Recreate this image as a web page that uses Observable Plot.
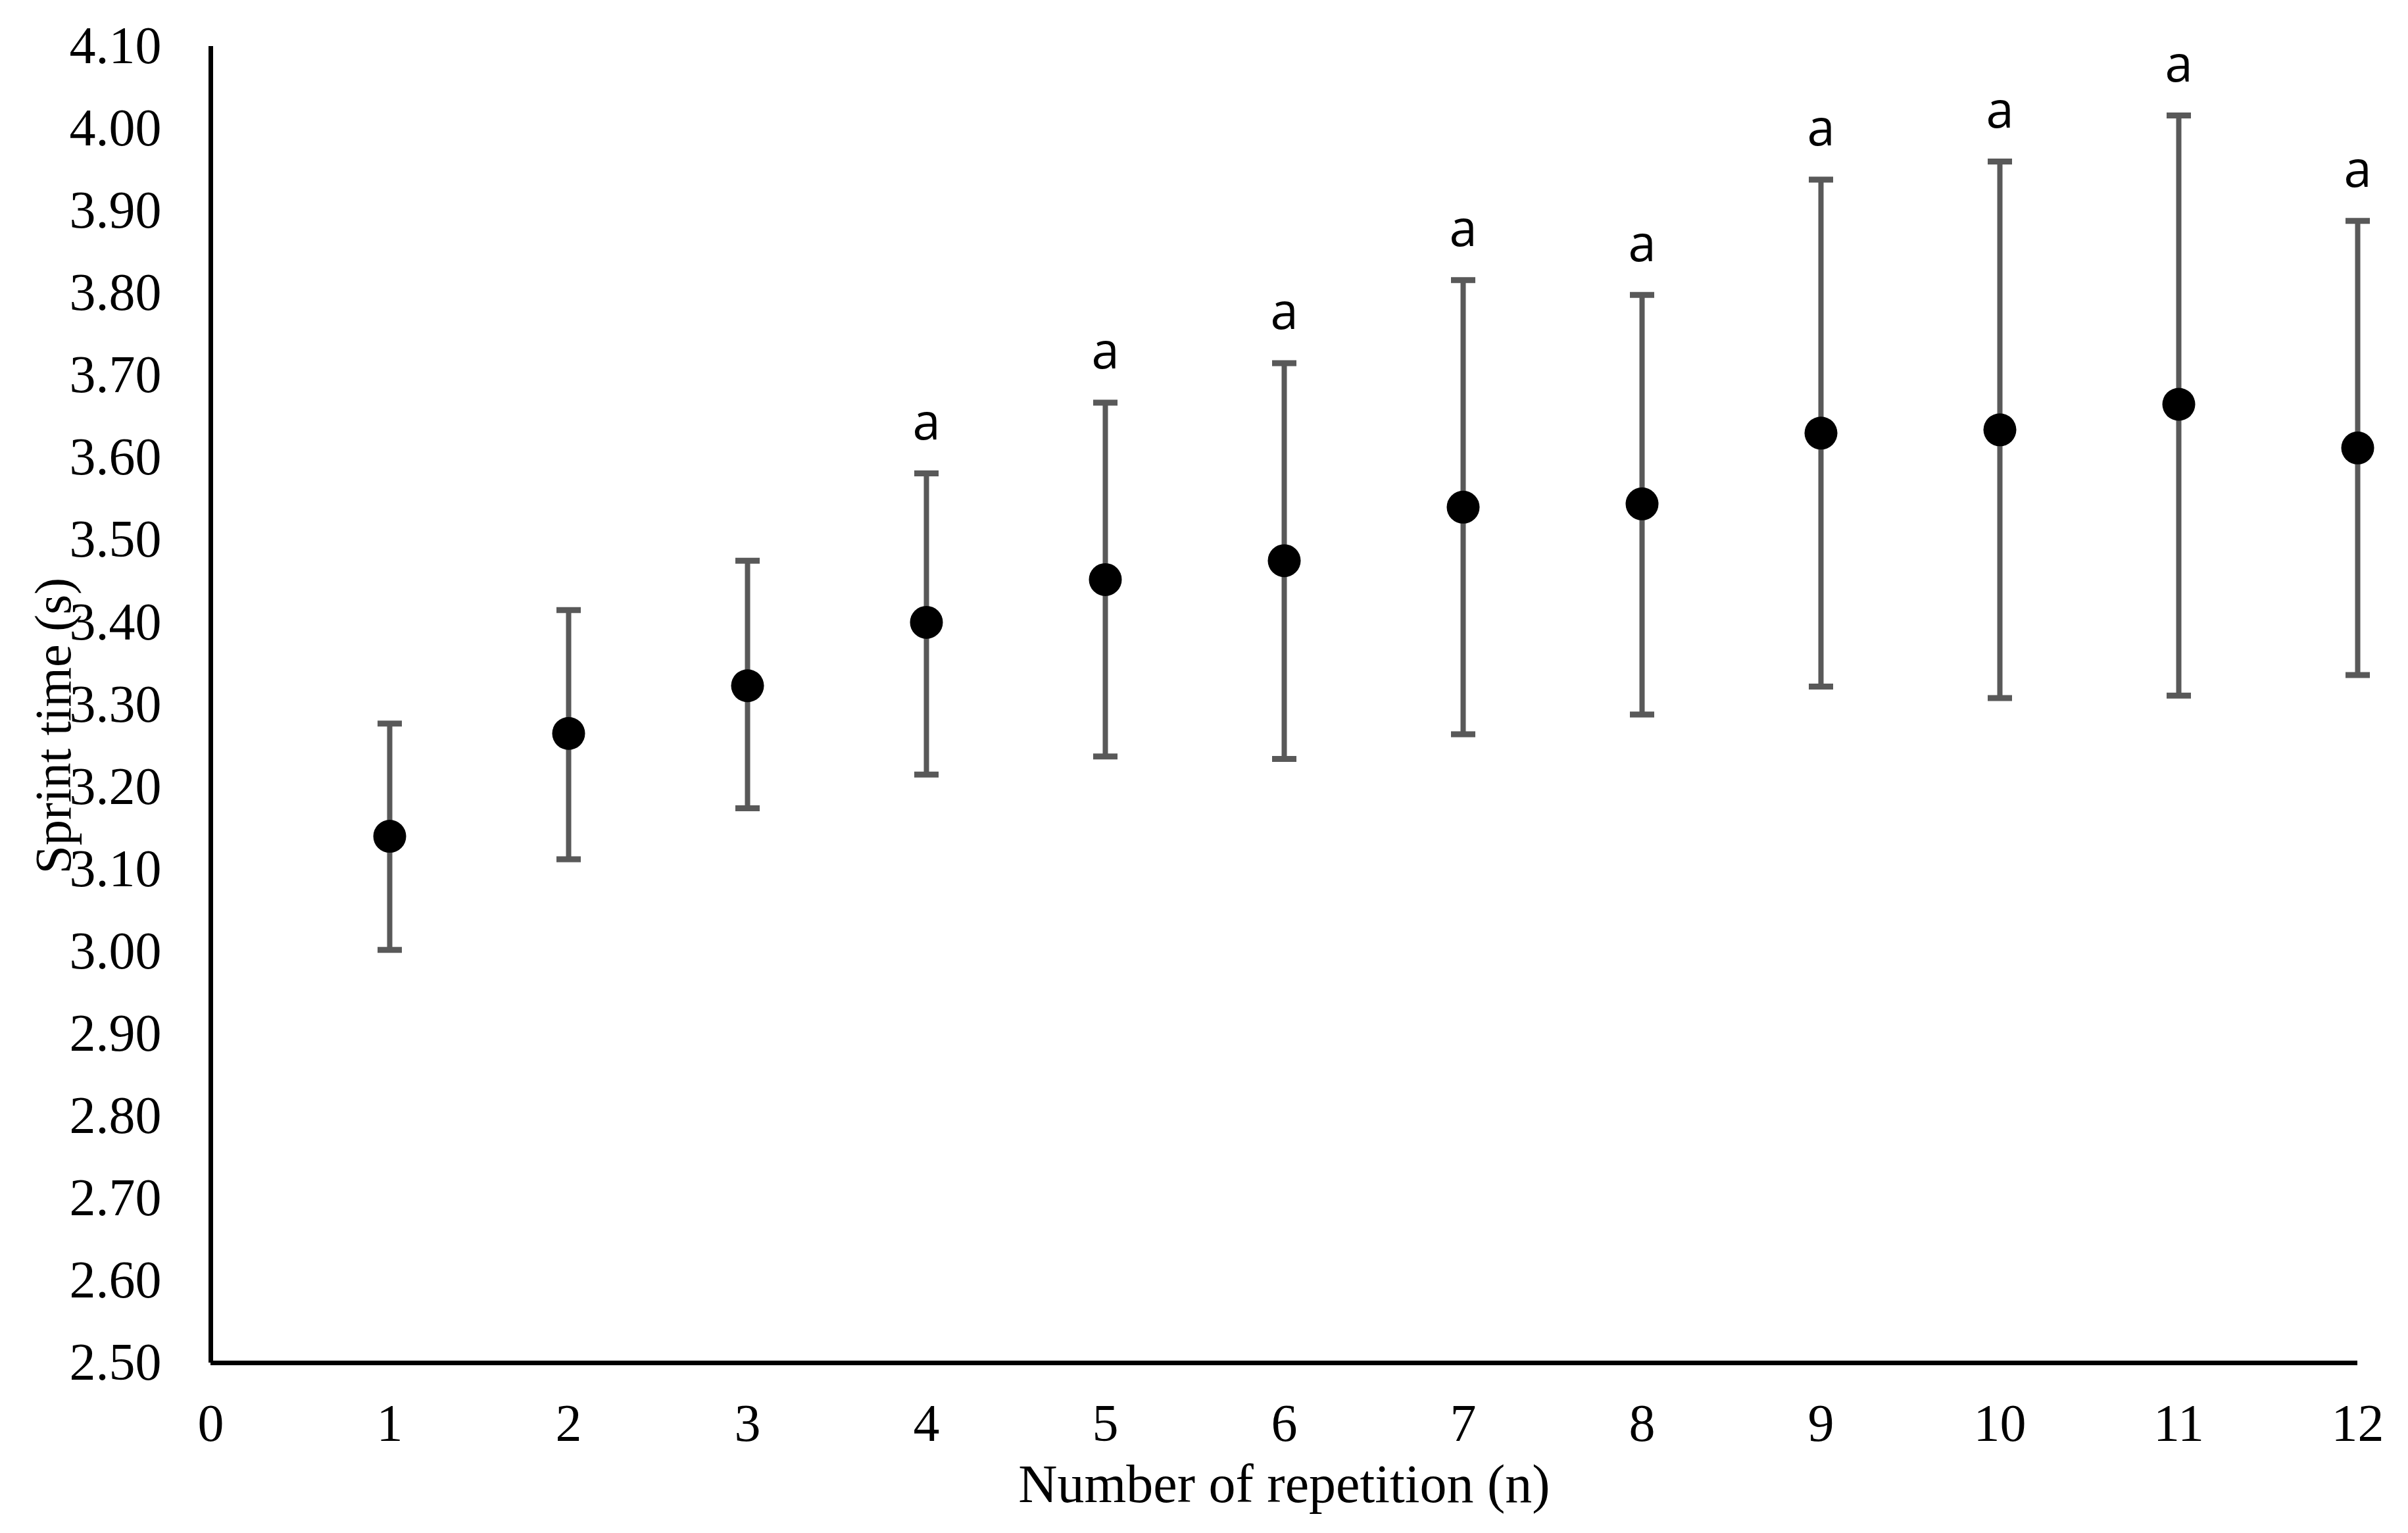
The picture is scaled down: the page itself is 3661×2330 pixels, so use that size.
<!DOCTYPE html>
<html>
<head>
<meta charset="utf-8">
<script src="https://cdn.jsdelivr.net/npm/d3@7"></script>
<script src="https://cdn.jsdelivr.net/npm/@observablehq/plot@0.6"></script>
<style>
  html, body { margin: 0; padding: 0; background: #fff; }
  #chart svg { display: block; }
</style>
</head>
<body>
<div id="chart"></div>
<script>
// ---- data ----
const repetitions = [1, 2, 3, 4, 5, 6, 7, 8, 9, 10, 11, 12];
const meanTime   = [3.140, 3.265, 3.323, 3.400, 3.452, 3.475, 3.540, 3.544, 3.630, 3.634, 3.665, 3.612];
const upperBound = [3.277, 3.415, 3.475, 3.581, 3.667, 3.715, 3.816, 3.798, 3.938, 3.960, 4.016, 3.888];
const lowerBound = [3.002, 3.112, 3.174, 3.215, 3.237, 3.234, 3.264, 3.288, 3.322, 3.308, 3.311, 3.336];
const sigLabels  = ["", "", "", "a", "a", "a", "a", "a", "a", "a", "a", "a"];
const xTicks = [0, 1, 2, 3, 4, 5, 6, 7, 8, 9, 10, 11, 12];
const yTicks = [2.5, 2.6, 2.7, 2.8, 2.9, 3.0, 3.1, 3.2, 3.3, 3.4, 3.5, 3.6, 3.7, 3.8, 3.9, 4.0, 4.1];
const xTitle = "Number of repetition (n)";
const yTitle = "Sprint time (s)";

const rows = repetitions.map((n, i) => ({
  n, mean: meanTime[i], hi: upperBound[i], lo: lowerBound[i], sig: sigLabels[i]
}));

const capHalf = 0.068;
const serif = "Liberation Serif, Times New Roman, serif";
const barColor = "#595959";

const chart = Plot.plot({
  width: 3661,
  height: 2330,
  marginLeft: 320,
  marginRight: 77,
  marginTop: 70,
  marginBottom: 259,
  style: { fontFamily: serif, background: "#fff", color: "#000" },
  x: { domain: [0, 12] },
  y: { domain: [2.5, 4.1] },
  marks: [
    Plot.axisY({ ticks: yTicks, tickFormat: d3.format(".2f"), tickSize: 0, tickPadding: 75,
                 fontSize: 80, fontFamily: serif, label: null }),
    Plot.axisX({ ticks: xTicks, tickFormat: d => String(d), tickSize: 0, tickPadding: 62,
                 fontSize: 80, fontFamily: serif, label: null }),
    // error bars
    Plot.ruleX(rows, { x: "n", y1: "lo", y2: "hi", stroke: barColor, strokeWidth: 8 }),
    Plot.link(rows, { x1: d => d.n - capHalf, x2: d => d.n + capHalf, y1: "hi", y2: "hi",
                      stroke: barColor, strokeWidth: 9 }),
    Plot.link(rows, { x1: d => d.n - capHalf, x2: d => d.n + capHalf, y1: "lo", y2: "lo",
                      stroke: barColor, strokeWidth: 9 }),
    // means
    Plot.dot(rows, { x: "n", y: "mean", r: 25, fill: "#000", stroke: "none" }),
    // significance letters
    Plot.text(rows.filter(d => d.sig), { x: "n", y: "hi", text: "sig", dy: -76,
                      fontFamily: "Open Sans, sans-serif", fontSize: 76, fill: "#000",
                      lineAnchor: "middle", textAnchor: "middle" }),
    // axis lines
    Plot.ruleY([2.5], { stroke: "#000", strokeWidth: 7 }),
    Plot.ruleX([0], { stroke: "#000", strokeWidth: 7 }),
    // axis titles
    Plot.text([xTitle], { frameAnchor: "bottom", text: d => d, dy: 185, fontSize: 82,
                          fontFamily: serif, fill: "#000", lineAnchor: "middle", textAnchor: "middle" }),
    Plot.text([yTitle], { frameAnchor: "left", text: d => d, dx: -238, dy: 32, rotate: -90,
                          fontSize: 78, fontFamily: serif, fill: "#000",
                          lineAnchor: "middle", textAnchor: "middle" })
  ]
});

document.getElementById("chart").appendChild(chart);
</script>
</body>
</html>
